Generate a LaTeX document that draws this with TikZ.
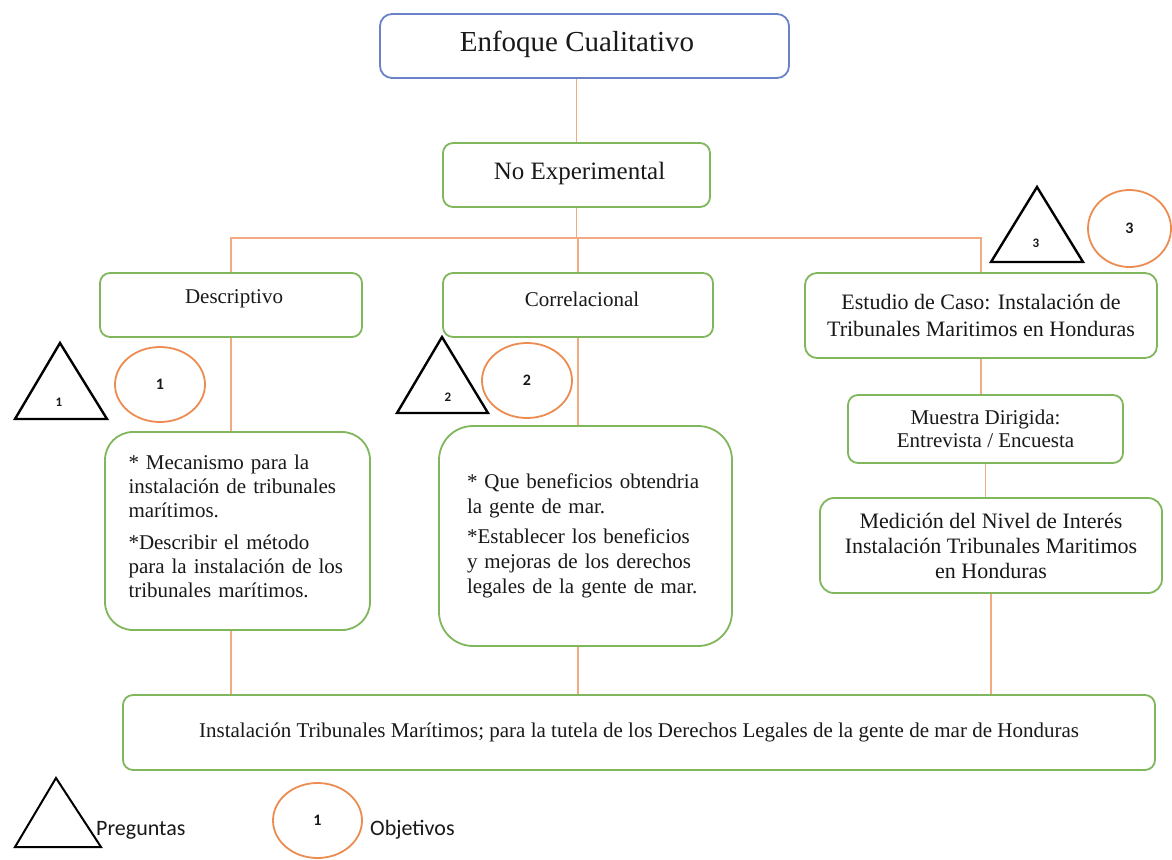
\documentclass[tikz,border=0pt]{standalone}
\usepackage{fontspec}
\setmainfont{Liberation Serif}
\newfontfamily\legfont{Carlito}
\usetikzlibrary{shapes.geometric}
\definecolor{boxgreen}{RGB}{128,182,92}
\definecolor{boxblue}{RGB}{105,130,200}
\definecolor{connor}{RGB}{242,170,130}
\definecolor{circor}{RGB}{236,140,80}
\definecolor{txt}{RGB}{25,25,25}
\begin{document}
\begin{tikzpicture}[x=1pt,y=-1pt,
  box/.style={draw=boxgreen,line width=1.8pt,fill=white,rounded corners=10pt,inner sep=0pt,text=txt},
  conn/.style={draw=connor,line width=1.4pt},
  tri/.style={draw=black,line width=2.4pt,line join=miter},
  circ/.style={ellipse,draw=circor,line width=1.8pt,inner sep=0pt,text=txt},
  trinum/.style={font=\legfont\bfseries\fontsize{13}{15}\selectfont,text=txt},
  cirnum/.style={font=\legfont\bfseries\fontsize{16}{18}\selectfont,text=txt},
  lbl/.style={text=txt,inner sep=0pt}
]
\useasboundingbox[fill=white] (0,0) rectangle (1172,859);

% boxes
\node[box,draw=boxblue,rounded corners=12pt,minimum width=409pt,minimum height=64pt] (enf) at (584.5,46) {};
\node[lbl,font=\fontsize{29}{33}\selectfont] (enft) at (577,44) {Enfoque Cualitativo};

\node[box,minimum width=267pt,minimum height=64pt] (nex) at (576.5,175) {};
\node[lbl,font=\fontsize{25}{29}\selectfont] (next) at (579.5,173) {No Experimental};

\node[box,minimum width=262pt,minimum height=64pt] (desc) at (231,305) {};
\node[lbl,font=\fontsize{21}{25}\selectfont] (desct) at (234,299) {Descriptivo};

\node[box,minimum width=270pt,minimum height=64pt] (cor) at (578,305) {};
\node[lbl,font=\fontsize{21}{25}\selectfont] (cort) at (582,299) {Correlacional};

\node[box,rounded corners=12pt,minimum width=352pt,minimum height=85pt,align=center,font=\fontsize{22}{27}\selectfont] (est) at (981,315.5) {Estudio de Caso: Instalación de\\Tribunales Maritimos en Honduras};

\node[box,minimum width=275pt,minimum height=68pt,align=center,font=\fontsize{21}{23}\selectfont] (mue) at (985.5,429) {Muestra Dirigida:\\Entrevista / Encuesta};

\node[box,rounded corners=14pt,minimum width=342pt,minimum height=95pt,align=center,font=\fontsize{22}{25}\selectfont] (med) at (991,545.5) {Medición del Nivel de Interés\\Instalación Tribunales Maritimos\\en Honduras};

\node[box,rounded corners=28pt,minimum width=265pt,minimum height=198pt] (mec) at (237.5,531) {};
\node[lbl,text width=218pt,align=left,font=\fontsize{21}{24}\selectfont] (mect) at (237.5,526) {* Mecanismo para la\\instalación de tribunales\\marítimos.\\[8pt]*Describir el método\\para la instalación de los\\tribunales marítimos.};

\node[box,rounded corners=34pt,minimum width=293pt,minimum height=220pt,text width=237pt,align=left,font=\fontsize{21}{25}\selectfont] (cq) at (585.5,536) {* Que beneficios obtendria\\la gente de mar.\\[5pt]*Establecer los beneficios\\y mejoras de los derechos\\legales de la gente de mar.};

\node[box,minimum width=1032pt,minimum height=75pt,font=\fontsize{21}{25}\selectfont] (bot) at (639,732.5) {Instalación Tribunales Marítimos; para la tutela de los Derechos Legales de la gente de mar de Honduras};

% connectors
\coordinate (hl) at (0,238);
\draw[conn] (nex.north |- enf.south) -- (nex.north);
\draw[conn] (nex.south) -- (nex.south |- hl);
\draw[conn] (desc.north) -- (desc.north |- hl) -- (est.north |- hl) -- (est.north);
\draw[conn] (cor.north) -- (cor.north |- hl);
\draw[conn] (desc.south) -- (desc.south |- mec.north);
\draw[conn] (cor.south) -- (cor.south |- cq.north);
\draw[conn] (est.south) -- (est.south |- mue.north);
\draw[conn] (mue.south) -- (mue.south |- med.north);
\draw[conn] (med.south) -- (med.south |- bot.north);
\draw[conn] (desc.south |- mec.south) -- (desc.south |- bot.north);
\draw[conn] (cor.south |- cq.south) -- (cor.south |- bot.north);

% triangles (preguntas)
\draw[tri] (60,343) -- (107,419) -- (15,419) -- cycle;
\node[trinum] (t1) at (59,402) {1};
\draw[tri] (442,337) -- (488,413) -- (397,413) -- cycle;
\node[trinum] (t2) at (448,397) {2};
\draw[tri] (1037,187) -- (1083,262) -- (991,262) -- cycle;
\node[trinum] (t3) at (1036,243) {3};

% circles (objetivos)
\node[circ,cirnum,minimum width=90pt,minimum height=75pt] (c1) at (160,384.5) {1};
\node[circ,cirnum,minimum width=90pt,minimum height=75pt] (c2) at (527,380.5) {2};
\node[circ,cirnum,minimum width=83pt,minimum height=77pt] (c3) at (1129.5,228.5) {3};

% legend
\draw[tri,line width=2pt] (56,778) -- (101,847) -- (15,847) -- cycle;
\node[lbl,anchor=west,font=\legfont\fontsize{22}{26}\selectfont] (lq) at (96,830) {Preguntas};
\node[circ,cirnum,minimum width=89pt,minimum height=75pt] (lc) at (317.5,820.5) {1};
\node[lbl,anchor=west,font=\legfont\fontsize{22}{26}\selectfont] (lo) at (370,830) {Objetivos};
\end{tikzpicture}
\end{document}
